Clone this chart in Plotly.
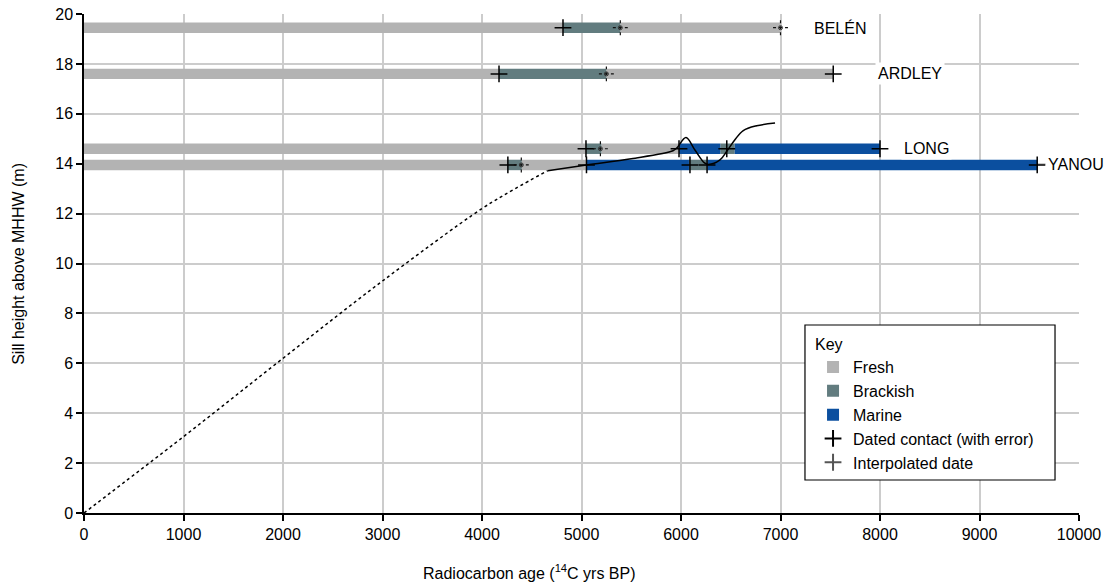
import plotly.graph_objects as go

# ---------------- data ----------------
sites = ["BELÉN", "ARDLEY", "LONG", "YANOU"]
site_height = [19.45, 17.6, 14.6, 13.95]

# environment segments: (site index, start age, end age)
fresh_site = [0, 0, 1, 1, 2, 2, 3, 3]
fresh_start = [0, 5390, 0, 5250, 0, 5200, 0, 4400]
fresh_end = [4814, 7000, 4171, 7530, 5045, 5980, 4255, 5050]

brackish_site = [0, 1, 2, 2, 3, 3]
brackish_start = [4814, 4171, 5045, 6395, 4255, 6080]
brackish_end = [5390, 5250, 5200, 6540, 4400, 6265]

marine_site = [2, 2, 3, 3]
marine_start = [5980, 6540, 5050, 6265]
marine_end = [6395, 8000, 6080, 9580]

dated_site = [0, 1, 1, 2, 2, 2, 2, 3, 3, 3, 3, 3]
dated_age = [4814, 4171, 7530, 5045, 5980, 6460, 8000, 4260, 5050, 6090, 6262, 9580]

interp_site = [0, 0, 1, 2, 3]
interp_age = [5390, 7000, 5250, 5190, 4395]

# sill-height curve (extrapolated dotted part and solid part)
curve_dotted_age = [0, 1000, 2000, 3000, 4000, 4330, 4660]
curve_dotted_h = [0, 3.06, 6.2, 9.3, 12.2, 12.99, 13.72]
curve_solid_age = [4660, 5050, 5500, 5920, 5960, 6050, 6140, 6236, 6275, 6392, 6460, 6540, 6626, 6760, 6945]
curve_solid_h = [13.72, 13.95, 14.2, 14.52, 14.64, 15.05, 14.55, 14.03, 13.97, 14.15, 14.5, 14.95, 15.33, 15.52, 15.63]

# ---------------- styles ----------------
FRESH = "#b3b3b3"
BRACKISH = "#627c7f"
MARINE = "#0b4f9f"
FONT = "Liberation Sans, Arial, sans-serif"
BAR_W = 0.42

fig = go.Figure()


def add_bars(name, site_idx, start, end, color):
    fig.add_trace(go.Bar(
        orientation="h",
        y=[site_height[i] for i in site_idx],
        x=[e - s for s, e in zip(start, end)],
        base=start,
        width=BAR_W,
        marker=dict(color=color, line=dict(width=0)),
        name=name,
        hoverinfo="skip",
    ))


add_bars("Fresh", fresh_site, fresh_start, fresh_end, FRESH)
add_bars("Brackish", brackish_site, brackish_start, brackish_end, BRACKISH)
add_bars("Marine", marine_site, marine_start, marine_end, MARINE)

# curves
fig.add_trace(go.Scatter(
    x=curve_dotted_age, y=curve_dotted_h, mode="lines",
    line=dict(color="black", width=1.5, dash="dot", shape="spline"),
    showlegend=False, hoverinfo="skip",
))
fig.add_trace(go.Scatter(
    x=curve_solid_age, y=curve_solid_h, mode="lines",
    line=dict(color="black", width=1.5, shape="spline", smoothing=1.0),
    showlegend=False, hoverinfo="skip",
))

# dated contacts
fig.add_trace(go.Scatter(
    x=dated_age, y=[site_height[i] for i in dated_site], mode="markers",
    marker=dict(symbol="cross-thin-open", size=12, color="black",
                line=dict(color="black", width=1.5)),
    name="Dated contact (with error)", hoverinfo="skip",
))

# interpolated dates: dotted crosses
hx, hy = [], []
for a, s in zip(interp_age, interp_site):
    h = site_height[s]
    hx += [a - 75, a + 75, None, a, a, None]
    hy += [h, h, None, h - 0.3, h + 0.3, None]
fig.add_trace(go.Scatter(
    x=hx, y=hy, mode="lines",
    line=dict(color="#111111", width=1.2, dash="dot"),
    showlegend=False, hoverinfo="skip",
))
fig.add_trace(go.Scatter(
    x=interp_age, y=[site_height[i] for i in interp_site], mode="markers",
    marker=dict(symbol="circle-open", size=4, color="#333333",
                line=dict(color="#333333", width=1)),
    showlegend=False, hoverinfo="skip",
))
# legend entry for interpolated date
fig.add_trace(go.Scatter(
    x=[None], y=[None], mode="markers",
    marker=dict(symbol="cross-thin-open", size=10, color="#555555",
                line=dict(color="#555555", width=1)),
    name="Interpolated date",
))

# site labels
label_age = [7600, 8300, 8470, 9970]
for name, h, xa in zip(sites, site_height, label_age):
    fig.add_annotation(
        x=xa, y=h, text=name, showarrow=False, xanchor="center", yanchor="middle",
        font=dict(size=16, color="black", family=FONT), bgcolor="white",
        borderpad=2,
    )

fig.add_annotation(
    xref="paper", yref="paper", x=0.448, y=-0.118, yanchor="middle",
    text="Radiocarbon age (<sup>14</sup>C yrs BP)", showarrow=False,
    font=dict(size=16, color="black", family=FONT),
)
fig.add_annotation(
    xref="paper", yref="paper", x=-0.066, y=0.5, xanchor="center", yanchor="middle",
    text="Sill height above MHHW (m)", showarrow=False, textangle=-90,
    font=dict(size=16, color="black", family=FONT),
)

# legend frame (drawn as a box so the key gets the reference's padding)
fig.add_shape(
    type="rect", xref="paper", yref="paper",
    x0=0.7246, x1=0.9759, y0=0.0661, y1=0.3768,
    line=dict(color="black", width=1.2), fillcolor="white", layer="above",
)

fig.update_layout(
    width=1117, height=582,
    margin=dict(l=84, r=38, t=14, b=69, autoexpand=False),
    paper_bgcolor="white", plot_bgcolor="white",
    barmode="overlay",
    font=dict(family=FONT, size=16, color="black"),
    legend=dict(
        title=dict(text="Key", font=dict(size=16)),
        x=0.7327, y=0.368, xanchor="left", yanchor="top",
        bgcolor="rgba(0,0,0,0)", borderwidth=0,
        font=dict(size=16, family=FONT), traceorder="normal",
        itemsizing="constant",
    ),
    xaxis=dict(
        range=[0, 10000], dtick=1000, tick0=0, tickformat="d",
        showgrid=True, gridcolor="#cccccc", gridwidth=1.5,
        showline=True, linecolor="black", linewidth=1.5,
        ticks="outside", ticklen=6, tickcolor="black", tickwidth=1.5,
        zeroline=False, tickfont=dict(size=16),
    ),
    yaxis=dict(
        range=[0, 20], dtick=2, tick0=0,
        showgrid=True, gridcolor="#cccccc", gridwidth=1.5,
        showline=True, linecolor="black", linewidth=1.5,
        ticks="outside", ticklen=6, tickcolor="black", tickwidth=1.5,
        zeroline=False, tickfont=dict(size=16),
    ),
)

fig.write_html(
    "out.html",
    config={"displayModeBar": False},
    post_script="document.body.style.margin='0';document.body.style.overflow='hidden';",
)
